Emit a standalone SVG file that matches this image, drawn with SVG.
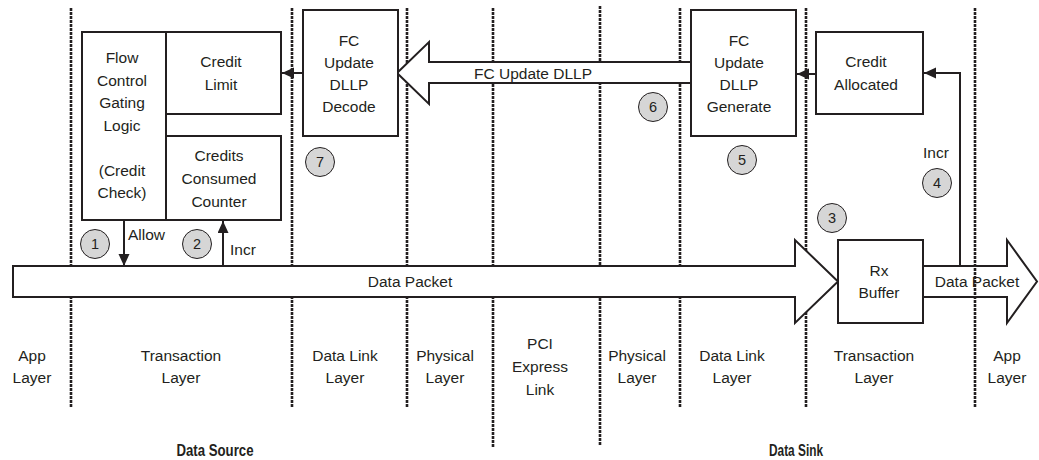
<svg xmlns="http://www.w3.org/2000/svg" width="1039" height="460" viewBox="0 0 1039 460">
<style>
.t{font-family:"Liberation Sans",Arial,sans-serif;font-size:15.5px;fill:#231f20;text-anchor:middle}
.ts{font-family:"Liberation Sans",Arial,sans-serif;font-size:15.5px;fill:#231f20;text-anchor:start}
.b{font-family:"Liberation Sans",Arial,sans-serif;font-size:16px;font-weight:bold;fill:#231f20;text-anchor:middle}
.n{font-family:"Liberation Sans",Arial,sans-serif;font-size:14.5px;fill:#231f20;text-anchor:middle}
.box{fill:#fff;stroke:#231f20;stroke-width:2}
.big{fill:#fff;stroke:#231f20;stroke-width:2;stroke-linejoin:miter}
.dash{stroke:#231f20;stroke-width:2.6;stroke-dasharray:3 1;fill:none}
.c{fill:#d6d6d6;stroke:#231f20;stroke-width:1}
.con{fill:none;stroke:#231f20;stroke-width:2}
</style>
<defs>
<marker id="ah" markerUnits="userSpaceOnUse" markerWidth="13" markerHeight="12" refX="12" refY="5.5" orient="auto">
<path d="M0,0 L12,5.5 L0,11 Z" fill="#231f20"/>
</marker>
</defs>

<g id="layer-lines">
<line class="dash" x1="71" y1="8" x2="71" y2="408"/>
<line class="dash" x1="292" y1="8" x2="292" y2="408"/>
<line class="dash" x1="407" y1="8" x2="407" y2="408"/>
<line class="dash" x1="493" y1="8" x2="493" y2="447"/>
<line class="dash" x1="600" y1="6" x2="600" y2="446"/>
<line class="dash" x1="680" y1="8" x2="680" y2="408"/>
<line class="dash" x1="806" y1="8" x2="806" y2="408"/>
</g>

<g id="data-packet-main">
<path class="big" d="M13,266 L795,266 L795,240 L838,281.5 L795,323 L795,297 L13,297 Z"/>
<text class="t" x="410" y="287">Data Packet</text>
</g>

<g id="fc-update-dllp-arrow">
<path class="big" d="M691,62 L429,62 L429,42 L397,73 L429,104 L429,83 L691,83"/>
<text class="t" x="533" y="78.5">FC Update DLLP</text>
</g>

<g id="flow-control">
<rect class="box" x="82" y="32" width="84" height="188"/>
<text class="t" x="122"><tspan x="122" y="62.5">Flow</tspan><tspan x="122" y="85.5">Control</tspan><tspan x="122" y="108">Gating</tspan><tspan x="122" y="130.5">Logic</tspan><tspan x="122" y="175.5">(Credit</tspan><tspan x="122" y="198">Check)</tspan></text>
</g>

<g id="credit-limit">
<rect class="box" x="166" y="32" width="115" height="82"/>
<text class="t"><tspan x="221" y="66.5">Credit</tspan><tspan x="221" y="89.5">Limit</tspan></text>
</g>

<g id="credits-consumed">
<rect class="box" x="166" y="136" width="115" height="84"/>
<text class="t"><tspan x="219" y="161">Credits</tspan><tspan x="219" y="184">Consumed</tspan><tspan x="219" y="207">Counter</tspan></text>
</g>

<g id="fc-decode">
<rect class="box" x="303" y="10" width="95" height="126"/>
<text class="t"><tspan x="349" y="45.5">FC</tspan><tspan x="349" y="67.5">Update</tspan><tspan x="349" y="90">DLLP</tspan><tspan x="349" y="112">Decode</tspan></text>
</g>

<g id="fc-generate">
<rect class="box" x="691" y="10" width="105" height="126"/>
<text class="t"><tspan x="739" y="45.5">FC</tspan><tspan x="739" y="67.5">Update</tspan><tspan x="739" y="90">DLLP</tspan><tspan x="739" y="112">Generate</tspan></text>
</g>

<g id="credit-allocated">
<rect class="box" x="816" y="32" width="107" height="82"/>
<text class="t"><tspan x="866" y="66.5">Credit</tspan><tspan x="866" y="89.5">Allocated</tspan></text>
</g>

<g id="rx-buffer">
<rect class="box" x="838" y="240" width="85" height="83"/>
<text class="t"><tspan x="879" y="275.5">Rx</tspan><tspan x="879" y="298">Buffer</tspan></text>
</g>

<g id="data-packet-out">
<path class="big" style="fill:none" d="M923,266 L1007,266 L1007,240 L1037,281.5 L1007,323 L1007,297 L923,297"/>
<line class="dash" x1="975" y1="8" x2="975" y2="408"/>
<text class="t" x="977" y="287">Data Packet</text>
</g>

<g id="connectors">
<line class="con" x1="303" y1="73" x2="282" y2="73" marker-end="url(#ah)"/>
<line class="con" x1="816" y1="74" x2="797" y2="74" marker-end="url(#ah)"/>
<polyline class="con" points="960,266 960,73 924,73" marker-end="url(#ah)"/>
<line class="con" x1="124" y1="220" x2="124" y2="266" marker-end="url(#ah)"/>
<line class="con" x1="223" y1="266" x2="223" y2="221" marker-end="url(#ah)"/>
<text class="ts" x="128" y="240">Allow</text>
<text class="ts" x="230" y="255">Incr</text>
<text class="ts" x="923" y="157.5">Incr</text>
</g>

<g id="steps">
<circle class="c" cx="95" cy="244" r="14.5"/><text class="n" x="95" y="249">1</text>
<circle class="c" cx="197" cy="244" r="14.5"/><text class="n" x="197" y="249">2</text>
<circle class="c" cx="832" cy="218" r="14.5"/><text class="n" x="832" y="223">3</text>
<circle class="c" cx="937" cy="183" r="14.5"/><text class="n" x="937" y="188">4</text>
<circle class="c" cx="742" cy="160" r="14.5"/><text class="n" x="742" y="165">5</text>
<circle class="c" cx="653" cy="107" r="14.5"/><text class="n" x="653" y="112">6</text>
<circle class="c" cx="320" cy="162" r="14.5"/><text class="n" x="320" y="167">7</text>
</g>

<g id="layer-labels">
<text class="t"><tspan x="32" y="360.5">App</tspan><tspan x="32" y="383">Layer</tspan></text>
<text class="t"><tspan x="181" y="360.5">Transaction</tspan><tspan x="181" y="383">Layer</tspan></text>
<text class="t"><tspan x="345" y="360.5">Data Link</tspan><tspan x="345" y="383">Layer</tspan></text>
<text class="t"><tspan x="445" y="360.5">Physical</tspan><tspan x="445" y="383">Layer</tspan></text>
<text class="t"><tspan x="540" y="349">PCI</tspan><tspan x="540" y="372">Express</tspan><tspan x="540" y="395">Link</tspan></text>
<text class="t"><tspan x="637" y="360.5">Physical</tspan><tspan x="637" y="383">Layer</tspan></text>
<text class="t"><tspan x="732" y="360.5">Data Link</tspan><tspan x="732" y="383">Layer</tspan></text>
<text class="t"><tspan x="874" y="360.5">Transaction</tspan><tspan x="874" y="383">Layer</tspan></text>
<text class="t"><tspan x="1007" y="360.5">App</tspan><tspan x="1007" y="383">Layer</tspan></text>
<text class="b" x="215" y="456" textLength="77" lengthAdjust="spacingAndGlyphs">Data Source</text>
<text class="b" x="796" y="456" textLength="54" lengthAdjust="spacingAndGlyphs">Data Sink</text>
</g>
</svg>
